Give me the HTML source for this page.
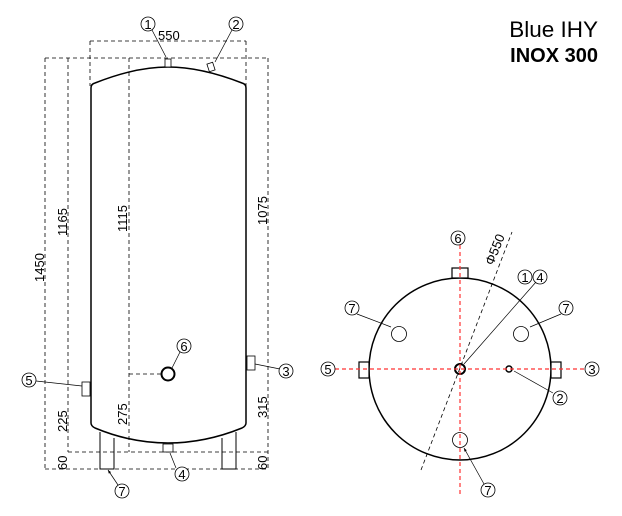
<!DOCTYPE html>
<html><head><meta charset="utf-8"><style>
html,body{margin:0;padding:0;background:#fff}
svg{display:block}
text{font-family:"Liberation Sans",sans-serif;fill:#000}
.d{stroke:#000;stroke-width:0.8;stroke-dasharray:4 3;fill:none}
.r{stroke:#f33;stroke-width:1.2;stroke-dasharray:4 3;fill:none}
.s{stroke:#000;stroke-width:1.5;fill:none}
.t{stroke:#000;stroke-width:0.7;fill:none}
.b{fill:#fff;stroke:#000;stroke-width:0.8}
.n{font-size:13px}
.bn{font-size:13px;text-anchor:middle}
</style></head><body>
<svg width="622" height="516" viewBox="0 0 622 516" xmlns="http://www.w3.org/2000/svg">
<defs><marker id="a" markerWidth="6" markerHeight="6" refX="5" refY="3" orient="auto"><path d="M0,1 L5,3 L0,5z" fill="#000"/></marker></defs>
<text x="598" y="37" font-size="22.5" text-anchor="end">Blue IHY</text>
<text x="598" y="62" font-size="20" font-weight="bold" text-anchor="end">INOX 300</text>

<!-- left view dims -->
<path class="d" d="M90,41H246M90,41V86M246,41V86M45,58H268M45,58V469M68,58V452M129,58V452M268,58V469M68,452H268M45,469H268M129,374H162"/>
<text class="n" x="158" y="40">550</text>
<g class="n">
<text transform="translate(44,282) rotate(-90)">1450</text>
<text transform="translate(67,236) rotate(-90)">1165</text>
<text transform="translate(127,232) rotate(-90)">1115</text>
<text transform="translate(267,225) rotate(-90)">1075</text>
<text transform="translate(67,432) rotate(-90)">225</text>
<text transform="translate(127,425) rotate(-90)">275</text>
<text transform="translate(267,418) rotate(-90)">315</text>
<text transform="translate(67,470) rotate(-90)">60</text>
<text transform="translate(267,470) rotate(-90)">60</text>
</g>
<!-- tank -->
<path class="s" d="M91,423V88Q91,84 95,83Q135,67 168,67Q201,67 242,83Q246,84 246,88V423Q246,426 242,428Q205,443 168,443Q131,443 95,428Q91,426 91,423Z"/>
<path class="t" d="M100,432V469H114V438M236,432V469H222V438" style="stroke-width:1"/>
<rect class="b" x="165" y="59" width="6" height="8"/>
<rect class="b" x="208" y="63" width="6" height="8" transform="rotate(-18 211 67)"/>
<rect class="b" x="163" y="444" width="10" height="8"/>
<rect class="b" x="82" y="382" width="8" height="14"/>
<rect class="b" x="247" y="356" width="8" height="14"/>
<circle cx="168" cy="374" r="6.5" fill="none" stroke="#000" stroke-width="2"/>
<!-- leaders -->
<path class="t" d="M152,30L166,57M232,30L215,62M180,352L172,368M280,369L255,364M36,381L82,386M176,468L170,453M118,485L108,470" marker-end="url(#a)"/>
<g>
<circle class="b" cx="148" cy="24" r="7"/><text class="bn" x="148" y="29">1</text>
<circle class="b" cx="236" cy="24" r="7"/><text class="bn" x="236" y="29">2</text>
<circle class="b" cx="184" cy="346" r="7"/><text class="bn" x="184" y="351">6</text>
<circle class="b" cx="286" cy="371" r="7"/><text class="bn" x="286" y="376">3</text>
<circle class="b" cx="29" cy="380" r="7"/><text class="bn" x="29" y="385">5</text>
<circle class="b" cx="182" cy="474" r="7"/><text class="bn" x="182" y="479">4</text>
<circle class="b" cx="122" cy="491" r="7"/><text class="bn" x="122" y="496">7</text>
</g>

<!-- right view -->
<path class="d" d="M421,470L512,232"/>
<text class="n" transform="translate(493,266) rotate(-68)">Φ550</text>
<circle cx="460" cy="369" r="91" fill="none" stroke="#000" stroke-width="1.5"/>
<rect class="b" x="452" y="268" width="16" height="10" style="stroke-width:1.2"/>
<rect class="b" x="359" y="362" width="10" height="16" style="stroke-width:1.2"/>
<rect class="b" x="551" y="362" width="10" height="16" style="stroke-width:1.2"/>
<circle class="b" cx="399" cy="334" r="7.5"/>
<circle class="b" cx="521" cy="334" r="7.5"/>
<circle class="b" cx="460" cy="440" r="7.5"/>
<circle cx="460" cy="369" r="5" fill="none" stroke="#000" stroke-width="2"/>
<circle cx="509" cy="369" r="3" fill="none" stroke="#000" stroke-width="1.5"/>
<path class="r" d="M460,238V497M335,369H586"/>
<path class="t" d="M536,282L464,364M357,314L391,327M561,314L530,327M553,393L514,371M484,484L464,448" marker-end="url(#a)"/>
<circle class="b" cx="458" cy="238" r="7"/><text class="bn" x="458" y="243">6</text>
<circle class="b" cx="525" cy="277" r="7"/><text class="bn" x="525" y="282">1</text>
<circle class="b" cx="540" cy="277" r="7"/><text class="bn" x="540" y="282">4</text>
<circle class="b" cx="352" cy="308" r="7"/><text class="bn" x="352" y="313">7</text>
<circle class="b" cx="566" cy="308" r="7"/><text class="bn" x="566" y="313">7</text>
<circle class="b" cx="328" cy="369" r="7"/><text class="bn" x="328" y="374">5</text>
<circle class="b" cx="592" cy="369" r="7"/><text class="bn" x="592" y="374">3</text>
<circle class="b" cx="560" cy="398" r="7"/><text class="bn" x="560" y="403">2</text>
<circle class="b" cx="488" cy="490" r="7"/><text class="bn" x="488" y="495">7</text>
</svg>
</body></html>
